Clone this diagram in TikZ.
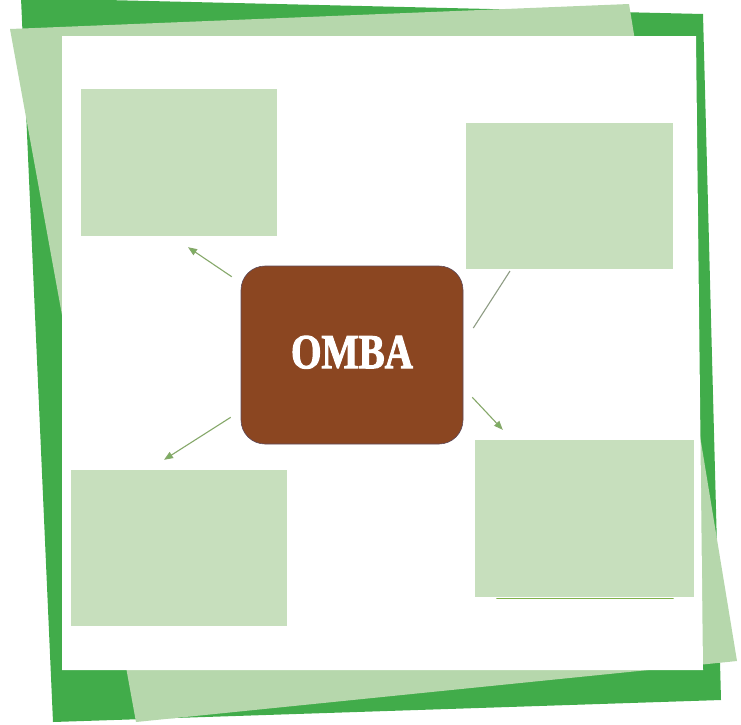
\documentclass[tikz,border=0pt]{standalone}
\usepackage{fontspec}
\usepackage{tikz}
\usetikzlibrary{positioning,arrows.meta}
\newfontfamily\ombafont[FakeStretch=0.8,FakeBold=2]{Liberation Serif}
\definecolor{leafdark}{HTML}{41AC4A}
\definecolor{leaflight}{HTML}{B6D7AC}
\definecolor{boxfill}{HTML}{C7DFBD}
\definecolor{bark}{HTML}{8B4621}
\definecolor{barkedge}{HTML}{5E4A5A}
\definecolor{twig}{HTML}{86A86A}
\definecolor{twiggrey}{HTML}{8E9C84}
\definecolor{brimedge}{HTML}{7FB24A}
\tikzset{box/.style={rectangle,fill=boxfill,inner sep=0pt},
	hub/.style={rectangle,rounded corners=24pt,fill=bark,draw=barkedge,line width=0.6pt,
		minimum width=222pt,minimum height=178pt,text=white,
		font=\ombafont\bfseries\fontsize{49}{50}\selectfont},
	twigline/.style={draw=twig,line width=1.1pt},
	twigarrow/.style={twigline,-{Triangle[length=9pt,width=7pt,fill=twig!90!green]}}}

\begin{document}
\begin{tikzpicture}[x=1pt,y=-1pt]
			\useasboundingbox (0,0) rectangle (741,724);
			% paper sheets
			\fill[leafdark] (21,-2) -- (703,14) -- (721,700) -- (53,722) -- cycle;
			\fill[leaflight] (10,29) -- (629,4) -- (737,661) -- (136,722) -- cycle;
			\fill[white] (62,36) -- (696,36) -- (703,670) -- (62,670) -- cycle;
			% centre and boxes
			\node[hub] (omba) at (352,355) {\raisebox{6pt}{OMBA}};
			\node[box,minimum width=196pt,minimum height=147pt] (tl) at (179,162.5) {};
			\node[box,minimum width=216pt,minimum height=156pt] (bl) at (179,548) {};
			\draw[brimedge,line width=1.6pt,line cap=round]
			(497,598.5) -- (673,598.5);
			\node[box,minimum width=219pt,minimum height=157pt] (br) at (584.5,518.5) {};
			\path[twigline,draw=twiggrey] ([shift={(10,-27)}]omba.east) -- (510,271);
			\node[box,minimum width=207pt,minimum height=146pt] (tr) at (569.5,196) {};
			% connectors
			\path[twigarrow] ([shift={(-9,11)}]omba.north west) -- ([shift={(9,11)}]tl.south);
			\path[twigarrow] ([shift={(-10,-27)}]omba.south west) -- ([shift={(-15,-10)}]bl.north);
			\path[twigarrow] ([shift={(9,-47)}]omba.south east) -- ([shift={(28,-10)}]br.north west);
		\end{tikzpicture}
\end{document}
